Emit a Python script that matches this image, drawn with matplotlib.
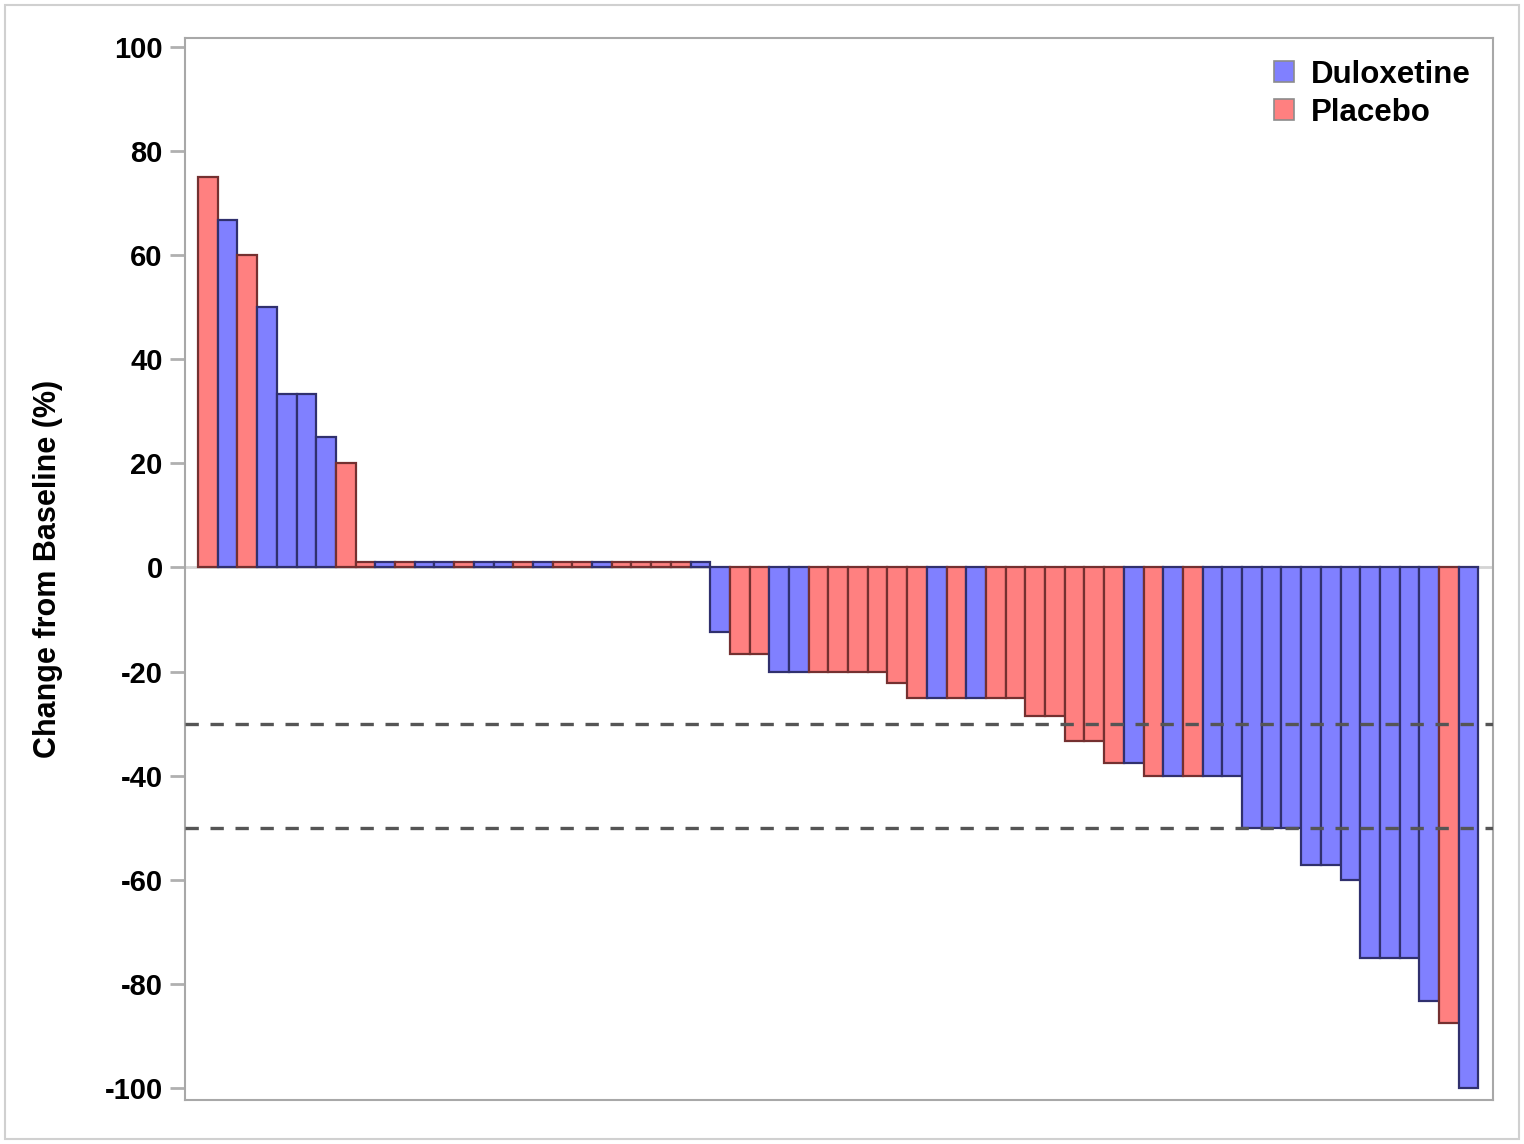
import matplotlib
matplotlib.use("Agg")
import matplotlib.pyplot as plt
import matplotlib.patches as mpatches
import numpy as np

# one value per patient, sorted as in the waterfall; zeros drawn as a small stub
change = [75, 66.7, 60, 50, 33.3, 33.3, 25, 20,
          1, 1, 1, 1, 1, 1, 1, 1, 1, 1, 1, 1, 1, 1, 1, 1, 1, 1,
          -12.5, -16.7, -16.7, -20, -20, -20, -20, -20, -20, -22.2,
          -25, -25, -25, -25, -25, -25, -28.6, -28.6, -33.3, -33.3,
          -37.5, -37.5, -40, -40, -40, -40, -40, -50, -50, -50,
          -57.1, -57.1, -60, -75, -75, -75, -83.3, -87.5, -100]

arm = ["P", "D", "P", "D", "D", "D", "D", "P",
       "P", "D", "P", "D", "D", "P", "D", "D", "P", "D", "P", "P", "D", "P", "P", "P", "P", "D",
       "D", "P", "P", "D", "D", "P", "P", "P", "P", "P",
       "P", "D", "P", "D", "P", "P", "P", "P", "P", "P",
       "P", "D", "P", "D", "P", "D", "D", "D", "D", "D",
       "D", "D", "D", "D", "D", "D", "D", "P", "D"]

arm_names = {"D": "Duloxetine", "P": "Placebo"}
fill = {"D": "#8080ff", "P": "#ff8080"}
edge = {"D": "#30306e", "P": "#743030"}

y_ticks = [100, 80, 60, 40, 20, 0, -20, -40, -60, -80, -100]
ref_lines = [-30, -50]

plt.rcParams["font.family"] = ["Liberation Sans", "DejaVu Sans"]
plt.rcParams["font.weight"] = "bold"

fig = plt.figure(figsize=(15.24, 11.44), dpi=100)
ax = fig.add_axes([0.1214, 0.0385, 0.8583, 0.9283])

x = np.arange(len(change))
ax.axhline(0, color="#d4d4d4", lw=2, zorder=1)
ax.bar(x, change, width=1.0,
       color=[fill[a] for a in arm], edgecolor=[edge[a] for a in arm],
       linewidth=1.6, zorder=2)

for r in ref_lines:
    ax.axhline(r, color="#555555", lw=2.4, ls=(0, (4, 3.5)), zorder=3)

ax.set_xlim(-1.16, len(change) + 0.24)
ax.set_ylim(-102.3, 101.7)
ax.set_yticks(y_ticks)
ax.set_yticklabels([str(t) for t in y_ticks], fontsize=21, fontweight="bold")
ax.set_xticks([])
ax.tick_params(axis="y", length=11, width=2, color="#b0b0b0", pad=5)
for s in ax.spines.values():
    s.set_color("#a8a8a8")
    s.set_linewidth(1.5)

ax.set_ylabel("Change from Baseline (%)", fontsize=22, fontweight="bold", labelpad=30)

handles = [mpatches.Patch(facecolor=fill[k], edgecolor="#8c8c8c", linewidth=1.2,
                          label=arm_names[k]) for k in ["D", "P"]]
ax.legend(handles=handles, loc="upper right", frameon=False,
          handlelength=0.65, handleheight=0.65, handletextpad=0.55,
          borderaxespad=0.3, labelspacing=0.25, prop={"weight": "bold", "size": 22.5})

fig.patches.append(mpatches.Rectangle((0.0033, 0.0044), 0.9934, 0.9912,
                                      transform=fig.transFigure, fill=False,
                                      edgecolor="#d0d0d0", linewidth=1.5))

fig.savefig("out.png", dpi=100)
